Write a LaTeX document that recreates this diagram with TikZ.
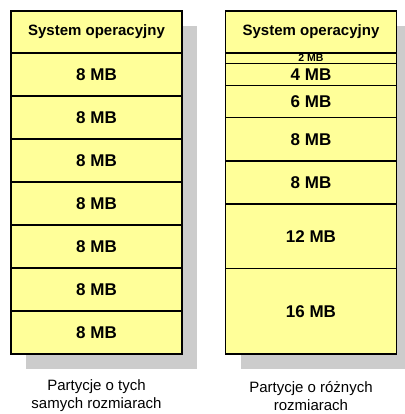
\documentclass[tikz,border=0pt]{standalone}
\usepackage{fontspec}
\setmainfont{Liberation Sans}
\usetikzlibrary{positioning,backgrounds}
\definecolor{mem}{HTML}{FFFF99}
\definecolor{shd}{HTML}{CCCCCC}
\tikzset{
  part/.style={draw, line width=1.1pt, fill=mem, inner sep=0pt, outer sep=0pt,
    minimum width=171pt, font=\bfseries\fontsize{17}{17}\selectfont},
  osbox/.style={part, anchor=north, minimum height=42pt, font=\bfseries\fontsize{15}{15}\selectfont},
  memshadow/.style={fill=shd},
  caption/.style={align=center, font=\fontsize{15}{18}\selectfont},
}
% one column: name, x of centre, list of height/label
\newcommand{\memcol}[3]{%
  \node[osbox] (#1-0) at (#2,11) {System operacyjny};
  \foreach \h/\lab [count=\i, remember=\i as \j (initially 0)] in {#3} {%
    \node[part, minimum height=\h pt, below=0pt of #1-\j] (#1-\i) {\lab};
    \xdef\lastpart{\i}
  }
  \begin{scope}[on background layer]
    \fill[memshadow] ([shift={(15,15)}]#1-0.north west) rectangle ([shift={(15,15)}]#1-\lastpart.south east);
  \end{scope}}

\begin{document}
\begin{tikzpicture}[x=1pt,y=-1pt]
  \useasboundingbox (0,0) rectangle (404,414);
  % equal partitions
  \memcol{eq}{96.5}{43/8 MB, 43/8 MB, 43/8 MB, 43/8 MB, 43/8 MB, 43/8 MB, 43/8 MB}
  % different partitions
  \memcol{df}{311}{10.3/{\fontsize{10.5}{10.5}\selectfont 2 MB}, 22.4/4 MB, 32/6 MB, 43.3/8 MB, 43/8 MB, 64.3/12 MB, 85.7/16 MB}
  \node[caption] (capeq) at (96.5,396) {Partycje o tych\\samych rozmiarach};
  \node[caption] (capdf) at (311,396) {Partycje o różnych\\rozmiarach};
\end{tikzpicture}
\end{document}
